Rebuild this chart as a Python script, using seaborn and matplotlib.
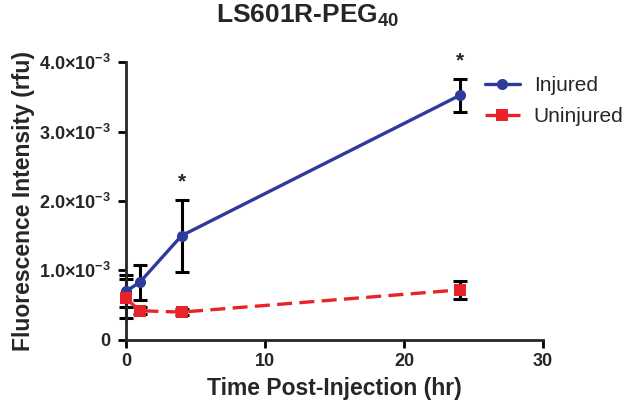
import matplotlib.pyplot as plt
import seaborn as sns
import pandas as pd
import numpy as np

# DATA
times = [0, 1, 4, 24]
injured = [0.70e-3, 0.83e-3, 1.50e-3, 3.52e-3]
injuredErr = [0.23e-3, 0.25e-3, 0.52e-3, 0.24e-3]
uninjured = [0.60e-3, 0.42e-3, 0.40e-3, 0.72e-3]
uninjuredErr = [0.28e-3, 0.05e-3, 0.04e-3, 0.13e-3]
starTimes = [4, 24]
yTicks = [0, 1e-3, 2e-3, 3e-3, 4e-3]
yTickLabels = ['0', '1.0×10$^{-3}$', '2.0×10$^{-3}$', '3.0×10$^{-3}$', '4.0×10$^{-3}$']
xTicks = [0, 10, 20, 30]

sns.set_style('ticks')
plt.rcParams['font.family'] = ['Liberation Sans', 'DejaVu Sans']
plt.rcParams['mathtext.fontset'] = 'custom'
plt.rcParams['mathtext.rm'] = 'Liberation Sans:bold'
plt.rcParams['mathtext.it'] = 'Liberation Sans:bold'
plt.rcParams['mathtext.bf'] = 'Liberation Sans:bold'

blue = '#2f3a9c'
red = '#e8232a'

df = pd.DataFrame({
    'time': times * 2,
    'value': injured + uninjured,
    'err': injuredErr + uninjuredErr,
    'group': ['Injured'] * len(times) + ['Uninjured'] * len(times)})

fig = plt.figure(figsize=(6.36, 4.11), dpi=100)
ax = fig.add_axes([0.198, 0.173, 0.656, 0.676])

# error bars underneath
for g in ['Injured', 'Uninjured']:
    sub = df[df['group'] == g]
    eb = ax.errorbar(sub['time'], sub['value'], yerr=sub['err'], fmt='none',
                     ecolor='black', elinewidth=2.2, capsize=5, capthick=2.2, zorder=2)
    for art in eb.lines[1] + eb.lines[2]:
        art.set_clip_on(False)

sns.lineplot(data=df, x='time', y='value', hue='group', style='group',
             palette={'Injured': blue, 'Uninjured': red},
             markers={'Injured': 'o', 'Uninjured': 's'},
             dashes={'Injured': '', 'Uninjured': (4.5, 2.2)},
             markersize=8, markeredgewidth=0, linewidth=2.4, ax=ax, zorder=3)
for ln in ax.lines:
    ln.set_clip_on(False)

# significance stars
for t in starTimes:
    i = times.index(t)
    ax.text(t, injured[i] + injuredErr[i] + 0.12e-3, '*', ha='center', va='bottom',
            fontsize=15, fontweight='bold')

ax.set_xlim(0, 30)
ax.set_ylim(0, 4e-3)
ax.set_xticks(xTicks)
ax.set_yticks(yTicks)
ax.set_yticklabels(yTickLabels)
ax.tick_params(axis='x', labelsize=13, width=2, length=6, color='black')
ax.tick_params(axis='y', labelsize=13, width=2, length=6, pad=5, color='black')
for lbl in ax.get_xticklabels() + ax.get_yticklabels():
    lbl.set_fontweight('bold')
for s in ['left', 'bottom']:
    ax.spines[s].set_linewidth(2)
sns.despine(ax=ax)

ax.set_xlabel('Time Post-Injection (hr)', fontsize=16.5, fontweight='bold', labelpad=5)
ax.set_ylabel('Fluorescence Intensity (rfu)', fontsize=16.5, fontweight='bold', labelpad=3)
fig.text(0.483, 0.992, 'LS601R-PEG$_{40}$', ha='center', va='top',
         fontsize=19, fontweight='bold')

handles, labels = ax.get_legend_handles_labels()
ax.legend(handles, labels, loc='upper left', bbox_to_anchor=(0.84, 0.98), frameon=False,
          fontsize=15, handlelength=1.7, handletextpad=0.65, labelspacing=0.6,
          borderaxespad=0.0)

plt.savefig('out.png', dpi=100)
